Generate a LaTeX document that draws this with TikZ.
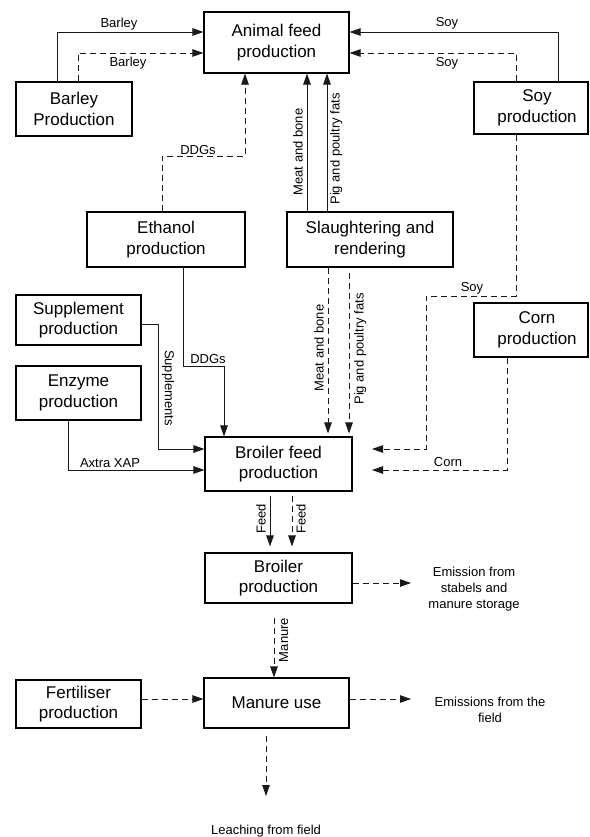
\documentclass[tikz,border=0pt]{standalone}
\usepackage{fontspec}
\setmainfont{Liberation Sans}
\usetikzlibrary{arrows.meta}
\newcommand{\boxsize}{\fontsize{17pt}{20.5pt}\selectfont}
\newcommand{\tagsize}{\fontsize{13pt}{16pt}\selectfont}

\begin{document}
\begin{tikzpicture}[x=1pt,y=-1pt,
  box/.style={draw=black, line width=1.1pt, fill=white, font=\boxsize, align=center, inner sep=0pt},
  boxtext/.style={font=\boxsize, align=center, inner sep=0pt},
  flow/.style={draw=black!90, line width=0.85pt, -{Triangle[length=11pt,width=7.5pt]}},
  dflow/.style={flow, dash pattern=on 6pt off 4pt},
  tag/.style={font=\tagsize, inner sep=1pt},
  note/.style={font=\tagsize, align=center, inner sep=0pt},
]
\useasboundingbox (0,0) rectangle (589,837);

% process boxes
\node[box, minimum width=145pt, minimum height=61pt] (afp) at (276.5,42.5) {Animal feed\\production};
\node[box, minimum width=116pt, minimum height=54pt] (barley) at (74,109) {Barley\\Production};
\node[box, minimum width=114pt, minimum height=52pt] (soy) at (531,108) {};
\node[boxtext] (soytxt) at ([xshift=6pt]soy.center) {Soy\\production};
\node[box, minimum width=158pt, minimum height=55pt] (eth) at (166,239.5) {Ethanol\\production};
\node[box, minimum width=166pt, minimum height=55pt] (slaughter) at (370,239.5) {Slaughtering and\\rendering};
\node[box, minimum width=125pt, minimum height=50pt] (supp) at (78.5,320) {Supplement\\production};
\node[box, minimum width=125pt, minimum height=54pt] (enz) at (78.5,393) {Enzyme\\production};
\node[box, minimum width=114pt, minimum height=54pt] (corn) at (531,330) {};
\node[boxtext] (corntxt) at ([xshift=6pt]corn.center) {Corn\\production};
\node[box, minimum width=147pt, minimum height=54pt] (bfp) at (278.5,464) {Broiler feed\\production};
\node[box, minimum width=147pt, minimum height=50pt] (broiler) at (278.5,578) {Broiler\\production};
\node[box, minimum width=145pt, minimum height=50pt] (manure) at (276.5,703) {Manure use};
\node[box, minimum width=125pt, minimum height=48pt] (fert) at (78.5,704) {Fertiliser\\production};

% outputs
\node[note] (emis) at (474,589) {Emission from\\stabels and\\manure storage};
\node[note] (field) at (490,710) {Emissions from the\\field};
\node[note] (leach) at (266,831) {Leaching from field};

% bend and end points
\coordinate (ddgA) at (245,156);
\coordinate (ddgB) at (224,366);
\coordinate (soyA) at (426,296);
\coordinate (soyB) at (372,449);
\coordinate (cornB) at (372,470);
\coordinate (suppA) at (158,449);
\coordinate (emisA) at (411,583);
\coordinate (fieldA) at (411,699);
\coordinate (leachA) at (266,796);

% flows into animal feed production
\draw[flow] ([xshift=-17pt]barley.north) |- ([yshift=10.5pt]afp.west);
\draw[dflow] ([xshift=4pt]barley.north) |- ([yshift=-10.5pt]afp.west);
\draw[flow] ([xshift=27pt]soy.north) |- ([yshift=10.5pt]afp.east);
\draw[dflow] ([xshift=-15pt]soy.north) |- ([yshift=-10.5pt]afp.east);
\draw[dflow] ([xshift=-4pt]eth.north) |- (ddgA) -- (ddgA |- afp.south);
\draw[flow] ([xshift=-63pt]slaughter.north) -- ([xshift=-63pt]slaughter.north |- afp.south);
\draw[flow] ([xshift=-43pt]slaughter.north) -- ([xshift=-43pt]slaughter.north |- afp.south);

% flows into broiler feed production
\draw[dflow, shorten >=3pt] ([xshift=-42pt]slaughter.south) -- ([xshift=-42pt]slaughter.south |- bfp.north);
\draw[dflow, shorten <=5pt, shorten >=3pt] ([xshift=-21pt]slaughter.south) -- ([xshift=-21pt]slaughter.south |- bfp.north);
\draw[dflow] ([xshift=-15pt]soy.south) |- (soyA) |- (soyB);
\draw[dflow] ([xshift=-24pt]corn.south) |- (cornB);
\draw[flow] ([xshift=17pt]eth.south) |- (ddgB) -- (ddgB |- bfp.north);
\draw[flow] ([yshift=-4pt]supp.east) -| (suppA) -- (suppA -| bfp.west);
\draw[flow] ([xshift=-10.5pt]enz.south) |- ([yshift=-6pt]bfp.west);

% feed, manure and emissions
\draw[flow, shorten <=4pt, shorten >=6pt] ([xshift=-8.5pt]bfp.south) -- ([xshift=-8.5pt]broiler.north);
\draw[dflow, shorten <=4pt, shorten >=6pt] ([xshift=13.5pt]bfp.south) -- ([xshift=13.5pt]broiler.north);
\draw[dflow] ([yshift=-5pt]broiler.east) -- (emisA);
\draw[dflow, shorten <=14pt] ([xshift=-4.5pt]broiler.south) -- ([xshift=-4.5pt]broiler.south |- manure.north);
\draw[dflow] ([yshift=5pt]fert.east) -- ([yshift=5pt]fert.east -| manure.west);
\draw[dflow] ([yshift=4pt]manure.east) -- (fieldA);
\draw[dflow, shorten <=7pt] ([xshift=-10.5pt]manure.south) -- (leachA);

% flow labels
\node[tag] (lb1) at (119,24) {Barley};
\node[tag] (lb2) at (128,63) {Barley};
\node[tag] (ls1) at (447,23) {Soy};
\node[tag] (ls2) at (447,63) {Soy};
\node[tag] (ld1) at (198,150) {DDGs};
\node[tag] (ld2) at (208,359) {DDGs};
\node[tag] (ls3) at (472,288) {Soy};
\node[tag] (lc) at (448,462) {Corn};
\node[tag] (lx) at (110,463) {Axtra XAP};
\node[tag, rotate=90, anchor=south] (lm1) at (304,152) {Meat and bone};
\node[tag, rotate=90, anchor=north] (lp1) at (329,149) {Pig and poultry fats};
\node[tag, rotate=90, anchor=south] (lm2) at (325,348) {Meat and bone};
\node[tag, rotate=90, anchor=north] (lp2) at (353,349) {Pig and poultry fats};
\node[tag, rotate=-90, anchor=south] (lsup) at (161,388) {Supplements};
\node[tag, rotate=90, anchor=south] (lf1) at (267,519) {Feed};
\node[tag, rotate=90, anchor=north] (lf2) at (295,519) {Feed};
\node[tag, rotate=90, anchor=north] (lman) at (278,640) {Manure};
\end{tikzpicture}
\end{document}
